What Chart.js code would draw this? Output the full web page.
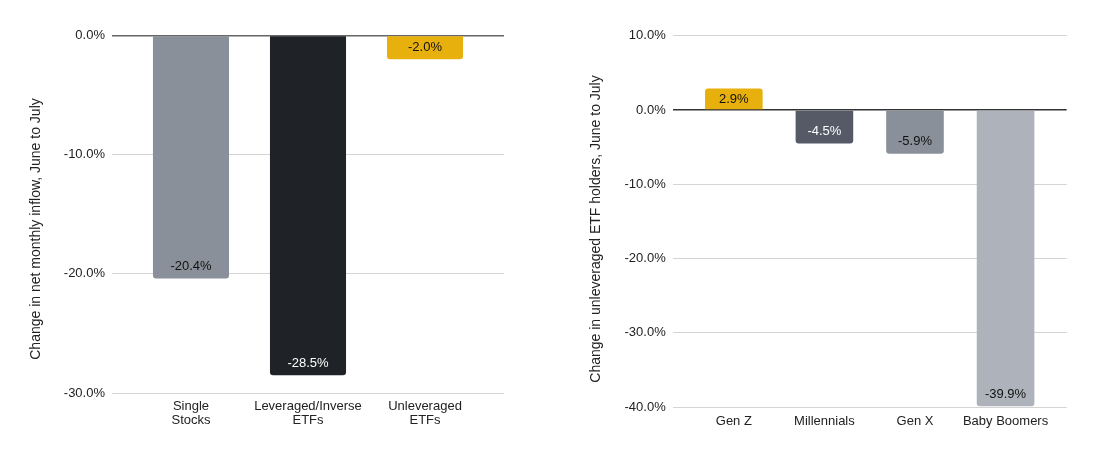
<!DOCTYPE html>
<html>
<head>
<meta charset="utf-8">
<script src="https://cdn.jsdelivr.net/npm/chart.js@4.4.1/dist/chart.umd.min.js"></script>
<style>
  html, body { margin: 0; padding: 0; background: #fff; }
  #wrap { position: relative; width: 1117px; height: 450px; }
  .box { position: absolute; top: 0; height: 450px; }
</style>
</head>
<body>
<div id="wrap">
  <div class="box" style="left:0;width:560px;"><canvas id="c1"></canvas></div>
  <div class="box" style="left:560px;width:557px;"><canvas id="c2"></canvas></div>
</div>
<script>
// ---- Data ----
const leftCategories = [['Single', 'Stocks'], ['Leveraged/Inverse', 'ETFs'], ['Unleveraged', 'ETFs']];
const leftValues = [-20.4, -28.5, -2.0];
const leftColors = ['#8a9099', '#1f2226', '#e8b00d'];
const leftLabelColors = ['#111', '#fff', '#111'];
const leftTicks = [0, -10, -20, -30];
const leftTitle = 'Change in net monthly inflow, June to July';

const rightCategories = ['Gen Z', 'Millennials', 'Gen X', 'Baby Boomers'];
const rightValues = [2.9, -4.5, -5.9, -39.9];
const rightColors = ['#e8b00d', '#555a66', '#8a9099', '#adb2bb'];
const rightLabelColors = ['#111', '#fff', '#111', '#111'];
const rightTicks = [10, 0, -10, -20, -30, -40];
const rightTitle = 'Change in unleveraged ETF holders, June to July';

const FONT = "'Liberation Sans', Arial, sans-serif";
const fmt = v => v.toFixed(1) + '%';

const valueLabels = {
  id: 'valueLabels',
  afterDatasetsDraw(chart, args, opts) {
    const ctx = chart.ctx;
    const meta = chart.getDatasetMeta(0);
    const ds = chart.data.datasets[0];
    ctx.save();
    ctx.font = '13px ' + FONT;
    ctx.textAlign = 'center';
    ctx.textBaseline = 'middle';
    meta.data.forEach((bar, i) => {
      const v = ds.data[i].y;
      const y = v < 0 ? bar.y - 12 : bar.y + 11;
      ctx.fillStyle = opts.colors[i];
      ctx.fillText(fmt(v), bar.x, y);
    });
    ctx.restore();
  }
};

const yTitle = {
  id: 'yTitle',
  afterDraw(chart, args, opts) {
    const ctx = chart.ctx;
    ctx.save();
    ctx.font = '14px ' + FONT;
    ctx.fillStyle = '#222';
    ctx.textAlign = 'center';
    ctx.textBaseline = 'middle';
    ctx.translate(opts.x, opts.y);
    ctx.rotate(-Math.PI / 2);
    ctx.fillText(opts.text, 0, 0);
    ctx.restore();
  }
};

function makeChart(id, cats, vals, colors, labelColors, ticks, title, cfg) {
  const n = cats.length;
  return new Chart(document.getElementById(id), {
    type: 'bar',
    data: {
      datasets: [{
        data: vals.map((v, i) => ({ x: i, y: v })),
        backgroundColor: colors,
        borderRadius: 3,
        categoryPercentage: 1,
        barPercentage: cfg.barPct
      }]
    },
    options: {
      responsive: true,
      maintainAspectRatio: false,
      animation: false,
      devicePixelRatio: 1,
      layout: { padding: cfg.padding },
      plugins: {
        legend: { display: false },
        tooltip: { enabled: false },
        valueLabels: { colors: labelColors },
        yTitle: { text: title, x: 36, y: 229 }
      },
      scales: {
        x: {
          type: 'linear',
          offset: false,
          min: -0.675,
          max: n - 1 + 0.675,
          grid: { display: false, drawTicks: false },
          border: { display: false },
          afterBuildTicks: axis => { axis.ticks = cats.map((c, i) => ({ value: i })); },
          afterFit: axis => { axis.height = cfg.xHeight; },
          ticks: {
            autoSkip: false,
            maxRotation: 0,
            padding: cfg.xPad,
            color: '#222',
            font: { family: FONT, size: 13, lineHeight: 1.1 },
            callback: v => cats[v]
          }
        },
        y: {
          min: Math.min(...ticks),
          max: Math.max(...ticks),
          afterBuildTicks: axis => { axis.ticks = ticks.map(t => ({ value: t })); },
          afterFit: axis => { axis.width = cfg.yWidth; },
          border: { display: false },
          grid: {
            drawTicks: false,
            color: c => c.tick.value === 0 ? cfg.zeroColor : '#d4d4d4',
            lineWidth: c => c.tick.value === 0 ? 1.5 : 1
          },
          ticks: {
            padding: 7,
            color: '#222',
            font: { family: FONT, size: 13 },
            callback: v => fmt(v)
          }
        }
      }
    },
    plugins: [valueLabels, yTitle]
  });
}

makeChart('c1', leftCategories, leftValues, leftColors, leftLabelColors, leftTicks, leftTitle, {
  padding: { left: 0, right: 56, top: 35.5, bottom: 17 },
  xHeight: 40, yWidth: 112, xPad: 6, barPct: 0.65, zeroColor: '#666'
});
makeChart('c2', rightCategories, rightValues, rightColors, rightLabelColors, rightTicks, rightTitle, {
  padding: { left: 0, right: 50.3, top: 35.7, bottom: 13 },
  xHeight: 30, yWidth: 112.7, xPad: 7, barPct: 0.636, zeroColor: '#333'
});
</script>
</body>
</html>
